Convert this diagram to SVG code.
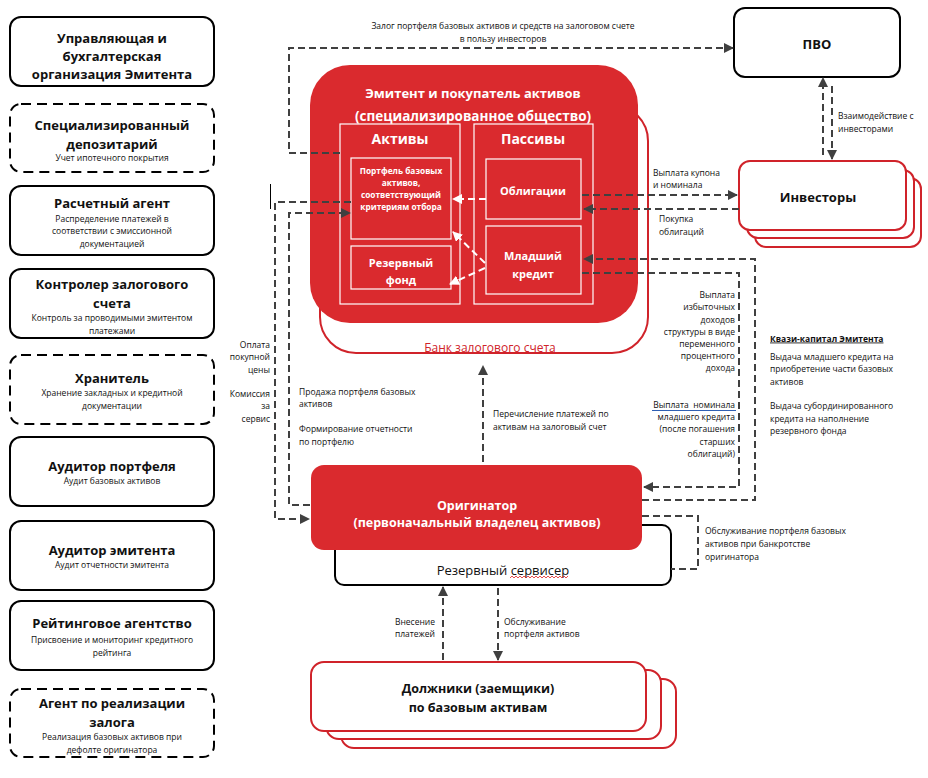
<svg xmlns="http://www.w3.org/2000/svg" width="928" height="778" viewBox="0 0 928 778">
<defs>
<style>
text { font-family: "Open Sans", "Noto Sans", "DejaVu Sans", sans-serif; dominant-baseline: central; fill: #111; }
.b { font-weight: bold; }
.c { text-anchor: middle; }
.e { text-anchor: end; }
.w { fill: #fff; }
.s { font-size: 8.5px; }
.h { font-size: 13px; font-weight: bold; }
.box { fill: #fff; stroke: #000; stroke-width: 2; }
.dbox { fill: #fff; stroke: #000; stroke-width: 2; stroke-dasharray: 10,6; }
.rbox { fill: #fff; stroke: #d0232a; stroke-width: 2; }
.wbox { fill: none; stroke: #fff; stroke-width: 1.2; }
.con { fill: none; stroke: #404040; stroke-width: 2; stroke-dasharray: 7,4; }
.wcon { fill: none; stroke: #fff; stroke-width: 2; stroke-dasharray: 7,4; }
</style>
<marker id="ar" viewBox="0 0 10 10" markerUnits="userSpaceOnUse" markerWidth="10" markerHeight="10" refX="9" refY="5" orient="auto">
<path d="M0,0 L10,5 L0,10 z" fill="#404040"/>
</marker>
<marker id="aw" viewBox="0 0 10 10" markerUnits="userSpaceOnUse" markerWidth="10" markerHeight="10" refX="9" refY="5" orient="auto">
<path d="M0,0 L10,5 L0,10 z" fill="#fff"/>
</marker>
</defs>
<rect width="928" height="778" fill="#fff"/>

<!-- Left column -->
<g id="n-upravl">
<rect class="box" x="10" y="17" width="204" height="69" rx="11"/>
<text class="h c" x="112" y="38">Управляющая и</text>
<text class="h c" x="112" y="56">бухгалтерская</text>
<text class="h c" x="112" y="74">организация Эмитента</text>
</g>
<g id="n-depo">
<rect class="dbox" x="10" y="104" width="204" height="68" rx="11"/>
<text class="h c" x="112" y="125">Специализированный</text>
<text class="h c" x="112" y="144">депозитарий</text>
<text class="s c" x="112" y="157">Учет ипотечного покрытия</text>
</g>
<g id="n-raschet">
<rect class="box" x="10" y="186" width="204" height="69" rx="11"/>
<text class="h c" x="112" y="203">Расчетный агент</text>
<text class="s c" x="112" y="218">Распределение платежей в</text>
<text class="s c" x="112" y="230">соответствии с эмиссионной</text>
<text class="s c" x="112" y="243">документацией</text>
</g>
<g id="n-kontroler">
<rect class="box" x="10" y="269" width="204" height="69" rx="11"/>
<text class="h c" x="112" y="284">Контролер залогового</text>
<text class="h c" x="112" y="303">счета</text>
<text class="s c" x="112" y="317">Контроль за проводимыми эмитентом</text>
<text class="s c" x="112" y="330">платежами</text>
</g>
<g id="n-hranitel">
<rect class="dbox" x="10" y="355" width="204" height="69" rx="11"/>
<text class="h c" x="112" y="378">Хранитель</text>
<text class="s c" x="112" y="392">Хранение закладных и кредитной</text>
<text class="s c" x="112" y="405">документации</text>
</g>
<g id="n-audit-portf">
<rect class="box" x="10" y="437" width="204" height="69" rx="11"/>
<text class="h c" x="112" y="466">Аудитор портфеля</text>
<text class="s c" x="112" y="480">Аудит базовых активов</text>
</g>
<g id="n-audit-emit">
<rect class="box" x="10" y="521" width="204" height="69" rx="11"/>
<text class="h c" x="112" y="550">Аудитор эмитента</text>
<text class="s c" x="112" y="564">Аудит отчетности эмитента</text>
</g>
<g id="n-rating">
<rect class="box" x="10" y="601" width="204" height="69" rx="11"/>
<text class="h c" x="112" y="623">Рейтинговое агентство</text>
<text class="s c" x="112" y="639">Присвоение и мониторинг кредитного</text>
<text class="s c" x="112" y="652">рейтинга</text>
</g>
<g id="n-agent">
<rect class="dbox" x="10" y="689" width="204" height="68" rx="11"/>
<text class="h c" x="112" y="703">Агент по реализации</text>
<text class="h c" x="112" y="722">залога</text>
<text class="s c" x="112" y="736">Реализация базовых активов при</text>
<text class="s c" x="112" y="749">дефолте оригинатора</text>
</g>

<!-- Bank + Emitent -->
<g id="n-bank">
<rect class="rbox" x="320" y="105" width="328" height="248" rx="36"/>
<text class="c" x="490" y="347" style="font-size:12px;fill:#d0232a">Банк залогового счета</text>
</g>
<g id="n-emitent">
<rect x="310" y="65" width="328" height="258" rx="40" fill="#da2a2e"/>
<text class="w b c" x="473" y="93" style="font-size:13px">Эмитент и покупатель активов</text>
<text class="w b c" x="473" y="116" style="font-size:13.5px">(специализированное общество)</text>
</g>
<g id="n-aktivy">
<rect class="wbox" x="340" y="124" width="120" height="180"/>
<text class="w b c" x="400" y="138" style="font-size:14px">Активы</text>
</g>
<g id="n-passivy">
<rect class="wbox" x="474" y="124" width="119" height="180"/>
<text class="w b c" x="533" y="138" style="font-size:14px">Пассивы</text>
</g>
<g id="n-portfel">
<rect class="wbox" x="351" y="158" width="100" height="81"/>
<text class="w b c" x="401" y="170" style="font-size:8.3px">Портфель базовых</text>
<text class="w b c" x="401" y="182" style="font-size:8.3px">активов,</text>
<text class="w b c" x="401" y="194" style="font-size:8.3px">соответствующий</text>
<text class="w b c" x="401" y="206" style="font-size:8.3px">критериям отбора</text>
</g>
<g id="n-rezfond">
<rect class="wbox" x="351" y="246" width="100" height="43"/>
<text class="w b c" x="401" y="262" style="font-size:11px">Резервный</text>
<text class="w b c" x="401" y="279" style="font-size:11px">фонд</text>
</g>
<g id="n-oblig">
<rect class="wbox" x="486" y="159" width="95" height="60"/>
<text class="w b c" x="533" y="190" style="font-size:11px">Облигации</text>
</g>
<g id="n-mladsh">
<rect class="wbox" x="486" y="226" width="95" height="68"/>
<text class="w b c" x="533" y="255" style="font-size:11px">Младший</text>
<text class="w b c" x="533" y="273" style="font-size:11px">кредит</text>
</g>

<!-- PVO -->
<g id="n-pvo">
<rect class="box" x="734" y="8" width="166" height="69" rx="11"/>
<text class="b c" x="817" y="44" style="font-size:13px">ПВО</text>
</g>

<!-- Investors -->
<g id="n-investory">
<rect class="rbox" x="755" y="178" width="166" height="69" rx="11"/>
<rect class="rbox" x="747" y="170" width="167" height="68" rx="11"/>
<rect class="rbox" x="739" y="161" width="167" height="69" rx="11"/>
<text class="b c" x="818" y="197" style="font-size:13px">Инвесторы</text>
</g>

<!-- Servicer + Originator -->
<g id="n-servicer">
<rect class="box" x="335" y="525" width="336" height="60" rx="9"/>
<text class="c" x="503" y="570" style="font-size:13px">Резервный сервисер</text>
<path d="M510,578 l2,-2 l2,2 l2,-2 l2,2 l2,-2 l2,2 l2,-2 l2,2 l2,-2 l2,2 l2,-2 l2,2 l2,-2 l2,2 l2,-2 l2,2 l2,-2 l2,2 l2,-2 l2,2 l2,-2 l2,2 l2,-2 l2,2 l2,-2 l2,2 l2,-2 l2,2 l2,-2" fill="none" stroke="#e02020" stroke-width="0.8"/>
</g>
<g id="n-originator">
<rect x="311" y="465" width="331" height="85" rx="13" fill="#da2a2e"/>
<text class="w b c" x="477" y="505" style="font-size:12.5px">Оригинатор</text>
<text class="w b c" x="477" y="522" style="font-size:12.5px">(первоначальный владелец активов)</text>
</g>

<!-- Debtors -->
<g id="n-dolzhniki">
<rect class="rbox" x="341" y="679" width="335" height="69" rx="13"/>
<rect class="rbox" x="326" y="670" width="335" height="69" rx="13"/>
<rect class="rbox" x="311" y="662" width="335" height="69" rx="13"/>
<text class="b c" x="478" y="688" style="font-size:12.5px">Должники (заемщики)</text>
<text class="b c" x="478" y="707" style="font-size:12.5px">по базовым активам</text>
</g>

<!-- Free text -->
<g id="quasi">
<text class="b" x="770" y="338" style="font-size:8.5px;text-decoration:underline">Квази-капитал Эмитента</text>
<text class="s" x="770" y="356">Выдача младшего кредита на</text>
<text class="s" x="770" y="368">приобретение части базовых</text>
<text class="s" x="770" y="381">активов</text>
<text class="s" x="770" y="405">Выдача субординированного</text>
<text class="s" x="770" y="418">кредита на наполнение</text>
<text class="s" x="770" y="430">резервного фонда</text>
</g>

<!-- Connectors -->
<g id="connectors">
<path class="con" d="M340,153 H289 V48 H733" marker-end="url(#ar)"/>
<path class="con" d="M823,155 V78" marker-end="url(#ar)"/>
<path class="con" d="M832,86 V159" marker-end="url(#ar)"/>
<path class="con" d="M582,195 H737" marker-end="url(#ar)"/>
<path class="con" d="M739,209 H584" marker-end="url(#ar)"/>
<path class="con" d="M642,500 H755 V259 H584" marker-end="url(#ar)"/>
<path class="con" d="M582,273 H739 V487 H644" marker-end="url(#ar)"/>
<path class="con" d="M642,516 H698 V569 H671"/>
<path class="con" d="M351,202 H275 V519 H309" marker-end="url(#ar)"/>
<path class="con" d="M310,505 H289 V213 H350" marker-end="url(#ar)"/>
<path class="con" d="M483,462 V366" marker-end="url(#ar)"/>
<path class="con" d="M443,660 V587" marker-end="url(#ar)"/>
<path class="con" d="M498,588 V660" marker-end="url(#ar)"/>
<path class="wcon" d="M486,199 H453" marker-end="url(#aw)"/>
<path class="wcon" d="M485,263 L453,232" marker-end="url(#aw)"/>
<path class="wcon" d="M485,268 L450,284" marker-end="url(#aw)"/>
<line x1="270.5" y1="184" x2="270.5" y2="209" stroke="#000" stroke-width="1"/>
</g>

<!-- Connector labels -->
<g id="labels">
<text class="s c" x="503" y="25">Залог портфеля базовых активов и средств на залоговом счете</text>
<text class="s c" x="503" y="38">в пользу инвесторов</text>
<text class="s" x="838" y="115">Взаимодействие с</text>
<text class="s" x="838" y="128">инвесторами</text>
<text class="s" x="653" y="172">Выплата купона</text>
<text class="s" x="653" y="184">и номинала</text>
<text class="s" x="659" y="218">Покупка</text>
<text class="s" x="659" y="231">облигаций</text>
<text class="s e" x="735" y="294">Выплата</text>
<text class="s e" x="735" y="306">избыточных</text>
<text class="s e" x="735" y="319">доходов</text>
<text class="s e" x="735" y="331">структуры в виде</text>
<text class="s e" x="735" y="343">переменного</text>
<text class="s e" x="735" y="355">процентного</text>
<text class="s e" x="735" y="367">дохода</text>
<text class="s e" x="735" y="404" xml:space="preserve">Выплата  номинала</text>
<line x1="652" y1="410.5" x2="736" y2="410.5" stroke="#2f5fb3" stroke-width="1"/>
<text class="s e" x="735" y="416">младшего кредита</text>
<text class="s e" x="735" y="428">(после погашения</text>
<text class="s e" x="735" y="441">старших</text>
<text class="s e" x="735" y="453">облигаций)</text>
<text class="s e" x="270" y="344">Оплата</text>
<text class="s e" x="270" y="356">покупной</text>
<text class="s e" x="270" y="369">цены</text>
<text class="s e" x="270" y="393">Комиссия</text>
<text class="s e" x="270" y="405">за</text>
<text class="s e" x="270" y="418">сервис</text>
<text class="s" x="299" y="391">Продажа портфеля базовых</text>
<text class="s" x="299" y="403">активов</text>
<text class="s" x="299" y="428">Формирование отчетности</text>
<text class="s" x="299" y="441">по портфелю</text>
<text class="s" x="493" y="413">Перечисление платежей по</text>
<text class="s" x="493" y="426">активам на залоговый счет</text>
<text class="s" x="705" y="530">Обслуживание портфеля базовых</text>
<text class="s" x="705" y="543">активов при банкротстве</text>
<text class="s" x="705" y="556">оригинатора</text>
<text class="s e" x="435" y="621">Внесение</text>
<text class="s e" x="435" y="633">платежей</text>
<text class="s" x="504" y="621">Обслуживание</text>
<text class="s" x="504" y="633">портфеля активов</text>
</g>
</svg>
